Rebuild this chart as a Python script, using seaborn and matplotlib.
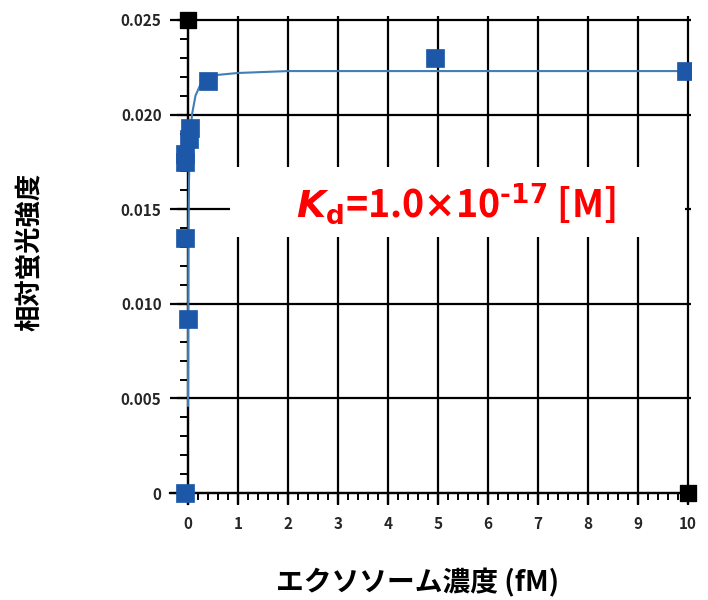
import numpy as np
import pandas as pd
import matplotlib.pyplot as plt
import seaborn as sns
from matplotlib.patches import Rectangle
from matplotlib.ticker import MultipleLocator, FuncFormatter

# 測定点 (エクソソーム濃度 fM, 相対蛍光強度)
conc = [-0.05, 0.0, -0.05, -0.05, -0.05, 0.02, 0.04, 0.4, 4.95, 9.95]
intensity = [0.0, 0.0092, 0.0135, 0.0175, 0.0179, 0.0187, 0.0193, 0.0218, 0.0230, 0.0223]

# フィッティング曲線
fit_x = [0.0, 0.005, 0.01, 0.02, 0.04, 0.08, 0.15, 0.25, 0.4, 0.6, 1.0, 2.0, 5.0, 10.0]
fit_y = [0.0046, 0.0100, 0.0135, 0.0165, 0.0185, 0.0200, 0.0210, 0.0216, 0.0219,
         0.0221, 0.0222, 0.0223, 0.0223, 0.0223]

# 軸の角の黒いマーカー
corner_x = [0.0, 10.0]
corner_y = [0.025, 0.0]

points = pd.DataFrame({'conc': conc, 'intensity': intensity})
fit = pd.DataFrame({'conc': fit_x, 'intensity': fit_y})
corners = pd.DataFrame({'conc': corner_x, 'intensity': corner_y})

sns.set_theme(style='white')
plt.rcParams['font.family'] = ['Noto Sans CJK JP', 'DejaVu Sans']
plt.rcParams['font.weight'] = 'bold'
plt.rcParams['mathtext.fontset'] = 'custom'
plt.rcParams['mathtext.bf'] = 'DejaVu Sans:bold'
plt.rcParams['mathtext.bfit'] = 'DejaVu Sans:italic:bold'

fig = plt.figure(figsize=(7.08, 6.0), dpi=100)
ax = fig.add_axes([0.2408, 0.1593, 0.7345, 0.8137])

ax.set_xlim(-0.35, 10.05)
ax.set_ylim(-0.0006, 0.0252)

ax.set_axisbelow(True)
ax.grid(True, which='major', color='black', linewidth=1.6)

# 注釈の白い背景
ax.add_patch(Rectangle((0.85, 0.01355), 9.08, 0.0037, facecolor='white',
                       edgecolor='none', zorder=1))

sns.lineplot(data=fit, x='conc', y='intensity', ax=ax, color='#3f7fb5',
             linewidth=1.5, sort=False, estimator=None, zorder=3)
sns.scatterplot(data=points, x='conc', y='intensity', ax=ax, marker='s',
                s=180, color='#1c57a8', edgecolor='#1c57a8', linewidth=0.5,
                zorder=4)
sns.scatterplot(data=corners, x='conc', y='intensity', ax=ax, marker='s',
                s=140, color='black', edgecolor='black', zorder=5,
                clip_on=False)

for side in ['top', 'right']:
    ax.spines[side].set_visible(False)
ax.spines['left'].set_position(('data', 0))
ax.spines['bottom'].set_position(('data', 0))
for side in ['left', 'bottom']:
    ax.spines[side].set_color('black')
    ax.spines[side].set_linewidth(1.6)

ax.xaxis.set_major_locator(MultipleLocator(1))
ax.xaxis.set_minor_locator(MultipleLocator(0.2))
ax.yaxis.set_major_locator(MultipleLocator(0.005))
ax.yaxis.set_minor_locator(MultipleLocator(0.001))
ax.yaxis.set_major_formatter(FuncFormatter(lambda v, p: '0' if abs(v) < 1e-9 else f'{v:.3f}'))

ax.tick_params(axis='both', which='both', direction='out', color='black',
               bottom=True, left=True)
ax.tick_params(axis='x', which='major', length=8.5, width=1.6, pad=8, labelsize=11)
ax.tick_params(axis='x', which='minor', length=5, width=1.4)
ax.tick_params(axis='y', which='major', length=8, width=1.6, pad=11, labelsize=11)
ax.tick_params(axis='y', which='minor', length=6, width=1.4)
for lab in ax.get_xticklabels() + ax.get_yticklabels():
    lab.set_fontweight('bold')

ax.set_xlabel('')
ax.set_ylabel('')
fig.text(0.043, 0.58, '相対蛍光強度', rotation=90, ha='center', va='center',
         fontsize=19, fontweight='bold', color='black')
fig.text(0.59, 0.028, 'エクソソーム濃度 (fM)', ha='center', va='center',
         fontsize=20, fontweight='bold', color='black')

ax.text(5.35, 0.01525,
        r'$\mathbfit{K}_{\mathbf{d}}$=1.0$\mathbf{\times}$10$^{\mathbf{‐17}}$ [M]',
        ha='center', va='center', fontsize=27, fontweight='bold', color='#ff0000',
        zorder=6)

fig.savefig('out.png', dpi=100)
